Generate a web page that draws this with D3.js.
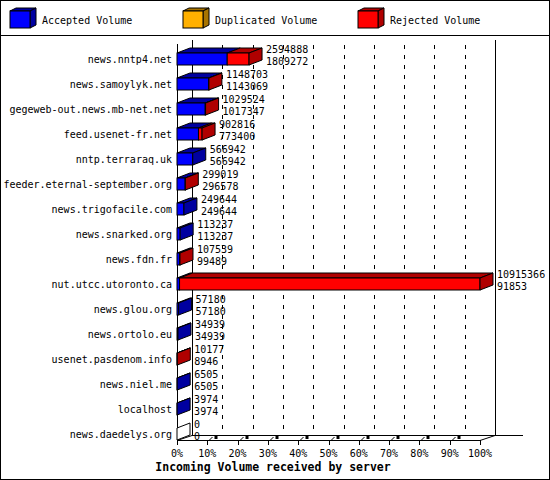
<!DOCTYPE html>
<html>
<head>
<meta charset="utf-8">
<script src="https://cdn.jsdelivr.net/npm/d3@7"></script>
<style>
  body { margin: 0; background: #fff; }
  svg text { font-family: "DejaVu Sans Mono", monospace; }
</style>
</head>
<body>
<div id="chart"></div>
<script>
var servers = [
    "news.nntp4.net", "news.samoylyk.net", "gegeweb-out.news.mb-net.net",
    "feed.usenet-fr.net", "nntp.terraraq.uk", "feeder.eternal-september.org",
    "news.trigofacile.com", "news.snarked.org", "news.fdn.fr",
    "nut.utcc.utoronto.ca", "news.glou.org", "news.ortolo.eu",
    "usenet.pasdenom.info", "news.niel.me", "localhost", "news.daedelys.org"
]
var totalVolume = [2594888, 1148703, 1029524, 902816, 566942, 299019, 249644, 113237,
    107539, 10915366, 57180, 34939, 10177, 6505, 3974, 0]
var acceptedVolume = [1809272, 1143069, 1017347, 773400, 566942, 296578, 249644, 113237,
    99489, 91853, 57180, 34939, 8946, 6505, 3974, 0]
var duplicatedVolume = [0, 0, 0, 0, 0, 0, 0, 0, 0, 0, 0, 0, 0, 0, 0, 0]
var rejectedVolume = [785616, 5634, 12177, 129416, 0, 2441, 0, 0,
    8050, 10823513, 0, 0, 1231, 0, 0, 0]
var percentTicks = [0, 10, 20, 30, 40, 50, 60, 70, 80, 90, 100]

var legendItems = [
    { name: "Accepted Volume", front: "#0000ff", dark: "#0000a0", x: 10 },
    { name: "Duplicated Volume", front: "#ffb000", dark: "#a87400", x: 183 },
    { name: "Rejected Volume", front: "#ff0000", dark: "#b00000", x: 358 }
]

var width = 550, height = 480
var svg = d3.select("#chart").append("svg")
    .attr("width", width)
    .attr("height", height)

svg.append("rect")
    .attr("x", 0.5).attr("y", 0.5)
    .attr("width", width - 1).attr("height", height - 1)
    .attr("fill", "white").attr("stroke", "black")

// legend
svg.append("line")
    .attr("x1", 0).attr("x2", width).attr("y1", 35.5).attr("y2", 35.5)
    .attr("stroke", "black")

legendItems.forEach(function(d) {
    let g = svg.append("g").attr("transform", "translate(" + d.x + ",11)")
    g.append("polygon").attr("points", "0,0 6,-3 26,-3 20,0")
        .attr("fill", d.dark).attr("stroke", "black")
    g.append("polygon").attr("points", "20,0 26,-3 26,14 20,17")
        .attr("fill", d.dark).attr("stroke", "black")
    g.append("rect").attr("x", 0).attr("y", 0).attr("width", 20).attr("height", 17)
        .attr("fill", d.front).attr("stroke", "black")
    g.append("text").attr("x", 32).attr("y", 9).attr("dy", "0.35em")
        .attr("font-size", "10px").text(d.name)
})

// plot geometry
var left = 177, right = 480
var floorY = 440, depthX = 15, depthY = 5
var barDX = 13, barDY = 5, barH = 12

var maxTotal = d3.max(totalVolume)
var x = d3.scaleLinear().domain([0, maxTotal]).range([left, right])
var xPct = d3.scaleLinear().domain([0, 100]).range([left, right])
var y = d3.scaleBand().domain(servers).range([46.5, 446.5])

// back wall grid
svg.selectAll("line.grid")
    .data(percentTicks.filter(p => p > 0 && p < 100))
    .enter().append("line")
    .attr("class", "grid")
    .attr("x1", p => Math.round(xPct(p) + depthX) + 0.5)
    .attr("x2", p => Math.round(xPct(p) + depthX) + 0.5)
    .attr("y1", 45).attr("y2", floorY - depthY)
    .attr("stroke", "black").attr("stroke-dasharray", "4,6")

var axisG = svg.append("g").attr("stroke", "black").attr("shape-rendering", "crispEdges")
axisG.append("line").attr("x1", left + depthX + 0.5).attr("x2", left + depthX + 0.5)
    .attr("y1", 40).attr("y2", floorY - depthY)
axisG.append("line").attr("x1", right + depthX + 0.5).attr("x2", right + depthX + 0.5)
    .attr("y1", 40).attr("y2", floorY - depthY)
axisG.append("line").attr("x1", left + depthX).attr("x2", 523)
    .attr("y1", floorY - depthY + 0.5).attr("y2", floorY - depthY + 0.5)
axisG.append("line").attr("x1", left).attr("x2", right)
    .attr("y1", floorY + 0.5).attr("y2", floorY + 0.5)
axisG.append("line").attr("x1", left + 0.5).attr("x2", left + 0.5)
    .attr("y1", 44).attr("y2", floorY + 5)
svg.append("line").attr("x1", right).attr("y1", floorY + 0.5)
    .attr("x2", right + depthX).attr("y2", floorY - depthY + 0.5).attr("stroke", "black")
svg.append("line").attr("x1", left).attr("y1", floorY + 0.5)
    .attr("x2", left + depthX).attr("y2", floorY - depthY + 0.5).attr("stroke", "black")

// ticks on the floor
percentTicks.forEach(function(p) {
    let tx = Math.round(xPct(p)) + 0.5
    svg.append("line").attr("x1", tx).attr("x2", tx)
        .attr("y1", floorY).attr("y2", floorY + 5).attr("stroke", "black")
    if (p > 0 && p < 100) {
        svg.append("line").attr("x1", tx + 2).attr("y1", floorY)
            .attr("x2", tx + 5).attr("y2", floorY - 3).attr("stroke", "black")
        svg.append("rect").attr("x", tx + 7).attr("y", floorY - 4)
            .attr("width", 3).attr("height", 3).attr("fill", "black")
    }
    svg.append("text").attr("x", xPct(p)).attr("y", 453).attr("dy", "0.35em")
        .attr("text-anchor", "middle").attr("font-size", "10px")
        .text(p + "%")
})

// bars
var seriesColors = legendItems
servers.forEach(function(name, i) {
    let c = y(name) + y.bandwidth() / 2
    let top = c - barH / 2, bottom = c + barH / 2
    let values = [acceptedVolume[i], duplicatedVolume[i], rejectedVolume[i]]
    let g = svg.append("g")
    let cum = 0, sideColor = "white"
    values.forEach(function(v, k) {
        if (v <= 0) return
        let x0 = x(cum), x1 = x(cum + v)
        cum += v
        sideColor = seriesColors[k].dark
        g.append("polygon")
            .attr("points", [[x0, top], [x0 + barDX, top - barDY], [x1 + barDX, top - barDY], [x1, top]].join(" "))
            .attr("fill", seriesColors[k].dark).attr("stroke", "black")
        g.append("rect").attr("x", x0).attr("y", top)
            .attr("width", x1 - x0).attr("height", barH)
            .attr("fill", seriesColors[k].front).attr("stroke", "black")
    })
    let xe = x(cum)
    g.append("polygon")
        .attr("points", [[xe, top], [xe + barDX, top - barDY], [xe + barDX, bottom - barDY], [xe, bottom]].join(" "))
        .attr("fill", sideColor).attr("stroke", "black")

    svg.append("text").attr("x", xe + barDX + 4).attr("y", c - 10).attr("dy", "0.35em")
        .attr("font-size", "10px").text(totalVolume[i])
    svg.append("text").attr("x", xe + barDX + 4).attr("y", c + 2.5).attr("dy", "0.35em")
        .attr("font-size", "10px").text(acceptedVolume[i])

    svg.append("text").attr("x", 172).attr("y", c).attr("dy", "0.35em")
        .attr("text-anchor", "end").attr("font-size", "10px").text(name)
})

svg.append("text").attr("x", 273).attr("y", 467).attr("dy", "0.35em")
    .attr("text-anchor", "middle").attr("font-size", "11.5px").attr("font-weight", "bold")
    .text("Incoming Volume received by server")
</script>
</body>
</html>
